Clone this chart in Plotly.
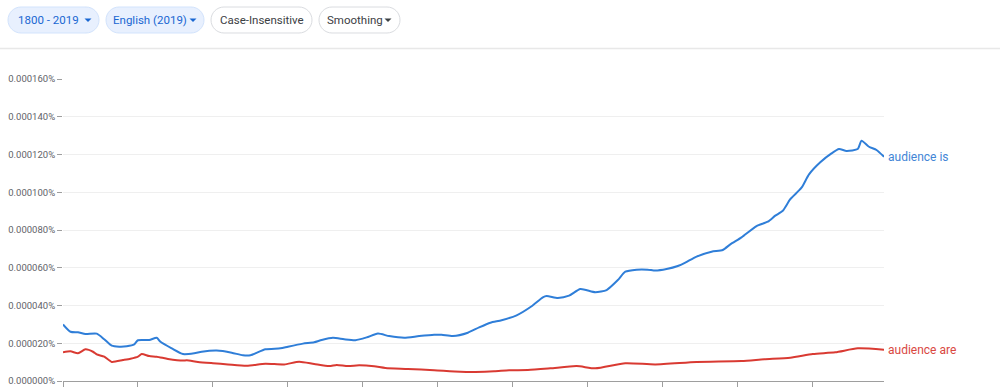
import plotly.graph_objects as go

# ---- data (values in units of 1e-6 percent) ----
years_is = [1800, 1802, 1804, 1806, 1809, 1811, 1813, 1815, 1817, 1819, 1820, 1823, 1825, 1826,
            1829, 1832, 1835, 1837, 1841, 1845, 1848, 1850, 1854, 1858, 1860, 1864, 1867, 1869,
            1872, 1875, 1878, 1881, 1884, 1887, 1891, 1895, 1899, 1901, 1904, 1908, 1911, 1914,
            1917, 1921, 1925, 1928, 1929, 1932, 1935, 1938, 1942, 1945, 1948, 1950, 1953, 1956,
            1958, 1961, 1964, 1966, 1969, 1973, 1976, 1978, 1981, 1985, 1988, 1990, 1992, 1994,
            1997, 1999, 2002, 2005, 2007, 2009, 2012, 2013, 2015, 2017, 2019]
vals_is = [30.0, 26.1, 25.8, 24.9, 25.1, 22.1, 18.7, 18.2, 18.4, 19.4, 21.6, 21.7, 22.9, 20.8,
           17.3, 14.3, 14.7, 15.5, 16.1, 15.0, 13.6, 13.6, 16.8, 17.3, 18.2, 19.8, 20.5, 21.7,
           22.9, 22.1, 21.6, 23.1, 25.1, 23.8, 22.9, 23.8, 24.5, 24.5, 23.8, 25.6, 28.4, 30.9,
           32.2, 34.8, 39.6, 44.3, 45.0, 44.0, 45.2, 48.7, 47.0, 48.2, 53.5, 57.9, 59.0, 59.0,
           58.5, 59.3, 60.9, 62.7, 65.9, 68.5, 69.4, 72.4, 76.1, 82.1, 84.4, 87.6, 90.2, 96.3,
           102.4, 109.5, 115.9, 120.6, 122.9, 121.9, 122.9, 127.3, 124.1, 122.4, 118.8]

years_are = [1800, 1802, 1804, 1806, 1808, 1809, 1811, 1813, 1816, 1818, 1820, 1821, 1823, 1825,
             1828, 1832, 1833, 1836, 1840, 1844, 1849, 1854, 1859, 1863, 1867, 1871, 1873, 1876,
             1879, 1883, 1886, 1892, 1899, 1906, 1910, 1915, 1919, 1924, 1930, 1937, 1942, 1950,
             1958, 1969, 1981, 1987, 1994, 2000, 2006, 2012, 2019]
vals_are = [15.2, 15.7, 14.7, 16.8, 15.5, 14.1, 12.9, 10.1, 11.1, 11.8, 12.9, 14.3, 13.2, 12.9,
            11.7, 10.8, 11.0, 10.1, 9.4, 8.8, 8.1, 9.2, 8.8, 10.2, 9.0, 7.9, 8.5, 7.9,
            8.3, 7.8, 6.9, 6.4, 5.7, 4.9, 4.8, 5.1, 5.7, 5.8, 6.7, 7.9, 6.7, 9.4,
            8.8, 10.1, 10.6, 11.5, 12.3, 14.3, 15.2, 17.3, 16.6]

series_names = ["audience is", "audience are"]
x_ticks = [1800, 1820, 1840, 1860, 1880, 1900, 1920, 1940, 1960, 1980, 2000]
y_ticks = [0, 20, 40, 60, 80, 100, 120, 140, 160]
y_tick_labels = ["0.000000%", "0.000020%", "0.000040%", "0.000060%", "0.000080%",
                 "0.000100%", "0.000120%", "0.000140%", "0.000160%"]
buttons = ["1800 - 2019", "English (2019)", "Case-Insensitive", "Smoothing"]

SCALE = 1e-6
BLUE = "#2f7ed8"
RED = "#d93a32"

W, H = 1000, 389
L, R, T, B = 63, 116, 79, 8
PW, PH = W - L - R, H - T - B


def pp(x, y):
    return (x - L) / PW, (H - B - y) / PH


def pill(x0, y0, x1, y1):
    r = (y1 - y0) / 2
    k = 0.5523 * r
    ym = (y0 + y1) / 2
    pts = [
        ("M", [(x0 + r, y0)]),
        ("L", [(x1 - r, y0)]),
        ("C", [(x1 - r + k, y0), (x1, ym - k), (x1, ym)]),
        ("C", [(x1, ym + k), (x1 - r + k, y1), (x1 - r, y1)]),
        ("L", [(x0 + r, y1)]),
        ("C", [(x0 + r - k, y1), (x0, ym + k), (x0, ym)]),
        ("C", [(x0, ym - k), (x0 + r - k, y0), (x0 + r, y0)]),
    ]
    s = ""
    for cmd, ps in pts:
        s += cmd + " " + " ".join("%.5f,%.5f" % pp(*p) for p in ps) + " "
    return s + "Z"


def tri(cx, cy):
    a = pp(cx - 3.5, cy - 1.5)
    b = pp(cx + 3.5, cy - 1.5)
    c = pp(cx, cy + 2)
    return "M %.5f,%.5f L %.5f,%.5f L %.5f,%.5f Z" % (a + b + c)


fig = go.Figure()
fig.add_trace(go.Scatter(x=years_is, y=[v * SCALE for v in vals_is], mode="lines",
                         line=dict(color=BLUE, width=2, shape="spline", smoothing=0.6),
                         name=series_names[0], hoverinfo="skip"))
fig.add_trace(go.Scatter(x=years_are, y=[v * SCALE for v in vals_are], mode="lines",
                         line=dict(color=RED, width=2, shape="spline", smoothing=0.6),
                         name=series_names[1], hoverinfo="skip"))

shapes = []
annotations = []
btn_geo = [(8, 99, True, 88, 48.5), (106, 204, True, 193, 150),
           (211, 312, False, None, 262), (319, 400, False, 388, 354.5)]
for label, (x0, x1, active, arrow_x, tx) in zip(buttons, btn_geo):
    shapes.append(dict(type="path", xref="paper", yref="paper", path=pill(x0, 7, x1, 33),
                       fillcolor="#e8f0fe" if active else "#ffffff",
                       line=dict(color="#d2e3fc" if active else "#dadce0", width=1), layer="above"))
    if arrow_x is not None:
        shapes.append(dict(type="path", xref="paper", yref="paper", path=tri(arrow_x, 20),
                           fillcolor="#1967d2" if active else "#3c4043", line=dict(width=0),
                           layer="above"))
    ax, ay = pp(tx, 20)
    annotations.append(dict(text=label, xref="paper", yref="paper", x=ax, y=ay,
                            xanchor="center", yanchor="middle", showarrow=False,
                            font=dict(family="Roboto", size=11.5,
                                      color="#1967d2" if active else "#3c4043")))

# separator line
sx0, sy = pp(0, 48.5)
sx1, _ = pp(W, 48.5)
shapes.append(dict(type="line", xref="paper", yref="paper", x0=sx0, x1=sx1, y0=sy, y1=sy,
                   line=dict(color="#e8e8e8", width=1.5)))

# series end labels
for name, vals, col in [(series_names[0], vals_is, "#4285d6"), (series_names[1], vals_are, "#d9483f")]:
    annotations.append(dict(text=name, xref="paper", yref="y", x=1, y=vals[-1] * SCALE,
                            xanchor="left", yanchor="middle", xshift=2, showarrow=False,
                            font=dict(family="Roboto", size=12, color=col)))

fig.update_layout(
    width=W, height=H, autosize=False,
    margin=dict(l=L, r=R, t=T, b=B, pad=0, autoexpand=False),
    paper_bgcolor="white", plot_bgcolor="white",
    showlegend=False,
    shapes=shapes, annotations=annotations,
    xaxis=dict(range=[1800, 2019], tickvals=x_ticks, showticklabels=False, automargin=False,
               ticks="outside", ticklen=5, tickcolor="#9e9e9e",
               showline=True, linecolor="#9e9e9e", linewidth=1, showgrid=False, zeroline=False),
    yaxis=dict(range=[0, 160 * SCALE], tickvals=[v * SCALE for v in y_ticks], automargin=False,
               ticktext=y_tick_labels, ticks="outside", ticklen=5,
               tickcolor="#9e9e9e", showgrid=True, gridcolor="#efefef", zeroline=False,
               showline=False, tickfont=dict(family="Roboto", size=9.5, color="#5f6368")),
)

fig.write_html("out.html", config={"displayModeBar": False},
               post_script="document.body.style.margin='0';document.body.style.overflow='hidden';")
